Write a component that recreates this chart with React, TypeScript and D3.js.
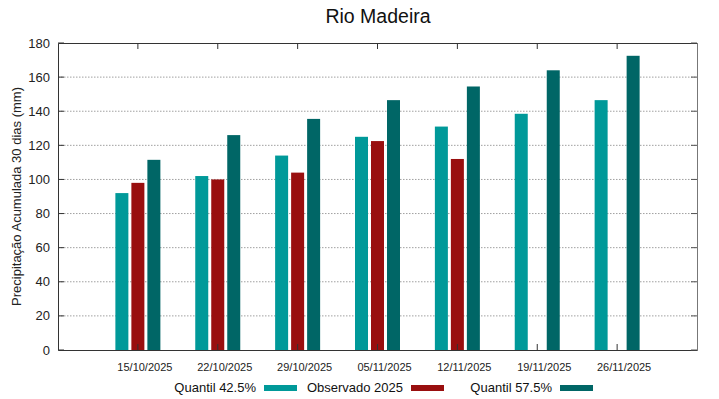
import { useEffect, useRef } from "react";
import * as d3 from "d3";

const dates = ["15/10/2025", "22/10/2025", "29/10/2025", "05/11/2025", "12/11/2025", "19/11/2025", "26/11/2025"];
const q425 = [92, 102, 114, 125, 131, 138.5, 146.5];
const observado = [98, 100, 104, 122.5, 112, null, null];
const q575 = [111.5, 126, 135.5, 146.5, 154.5, 164, 172.5];
const seriesNames = ["Quantil 42.5%", "Observado 2025", "Quantil 57.5%"];
const seriesColors = ["#009999", "#990f0f", "#006666"];
const yTicks = [0, 20, 40, 60, 80, 100, 120, 140, 160, 180];

export default function App() {
  const ref = useRef<SVGSVGElement>(null);
  const width = 719;
  const height = 399;

  useEffect(() => {
    if (!ref.current) return;
    const svg = d3.select(ref.current);
    svg.selectAll("*").remove();

    const margin = { top: 43, right: 22, bottom: 49, left: 58 };
    const innerW = width - margin.left - margin.right;
    const innerH = height - margin.top - margin.bottom;
    const font = "'Liberation Sans', Arial, sans-serif";

    const g = svg.append("g").attr("transform", `translate(${margin.left},${margin.top})`);

    // x: index positions, first category at 80px, spacing 80px
    const x = d3.scaleLinear().domain([-1, 7]).range([0, innerW]);
    const y = d3.scaleLinear().domain([0, 180]).range([innerH, 0]);

    // grid
    g.selectAll("line.grid")
      .data(yTicks.slice(1, -1))
      .join("line")
      .attr("class", "grid")
      .attr("x1", 0)
      .attr("x2", innerW)
      .attr("y1", (d) => y(d))
      .attr("y2", (d) => y(d))
      .attr("stroke", "#a0a0a0")
      .attr("stroke-width", 1)
      .attr("stroke-dasharray", "1.5,1.5");

    // bars
    const series = [q425, observado, q575];
    const barW = 13;
    const step = 16;
    series.forEach((vals, si) => {
      g.selectAll(`rect.s${si}`)
        .data(vals.map((v, i) => ({ v, i })).filter((d) => d.v != null))
        .join("rect")
        .attr("class", `s${si}`)
        .attr("x", (d) => x(d.i) + (si - 1) * step - barW / 2)
        .attr("y", (d) => y(d.v as number))
        .attr("width", barW)
        .attr("height", (d) => innerH - y(d.v as number))
        .attr("fill", seriesColors[si]);
    });

    // frame
    g.append("path")
      .attr("d", `M${innerW + 0.5},0.5 V${innerH + 0.5}`)
      .attr("stroke", "#777")
      .attr("fill", "none");
    g.append("path")
      .attr("d", `M${innerW + 0.5},0.5 H0.5 V${innerH + 0.5} H${innerW + 0.5}`)
      .attr("stroke", "#333")
      .attr("fill", "none");

    // y ticks left + mirror right
    g.selectAll("line.yt")
      .data(yTicks)
      .join("line")
      .attr("class", "yt")
      .attr("x1", 0)
      .attr("x2", 6)
      .attr("y1", (d) => y(d))
      .attr("y2", (d) => y(d))
      .attr("stroke", "#333");
    g.selectAll("line.ytr")
      .data(yTicks)
      .join("line")
      .attr("class", "ytr")
      .attr("x1", innerW)
      .attr("x2", innerW - 6)
      .attr("y1", (d) => y(d))
      .attr("y2", (d) => y(d))
      .attr("stroke", "#555");

    g.selectAll("text.yl")
      .data(yTicks)
      .join("text")
      .attr("class", "yl")
      .attr("x", -8)
      .attr("y", (d) => y(d))
      .attr("dy", "0.35em")
      .attr("text-anchor", "end")
      .style("font-family", font)
      .style("font-size", "13px")
      .attr("fill", "#222")
      .text((d) => d);

    // x ticks top and bottom
    const idx = d3.range(dates.length);
    g.selectAll("line.xt")
      .data(idx)
      .join("line")
      .attr("class", "xt")
      .attr("x1", (d) => x(d))
      .attr("x2", (d) => x(d))
      .attr("y1", 0)
      .attr("y2", 6)
      .attr("stroke", "#333");
    g.selectAll("line.xb")
      .data(idx)
      .join("line")
      .attr("class", "xb")
      .attr("x1", (d) => x(d))
      .attr("x2", (d) => x(d))
      .attr("y1", innerH)
      .attr("y2", innerH - 6)
      .attr("stroke", "#333");

    g.selectAll("text.xl")
      .data(dates)
      .join("text")
      .attr("class", "xl")
      .attr("x", (_, i) => x(i) + 7)
      .attr("y", innerH + 21)
      .attr("text-anchor", "middle")
      .style("font-family", font)
      .style("font-size", "11px")
      .attr("fill", "#222")
      .text((d) => d);

    // title
    svg.append("text")
      .attr("x", margin.left + innerW / 2 + 0.5)
      .attr("y", 23)
      .attr("text-anchor", "middle")
      .style("font-family", font)
      .style("font-size", "19.5px")
      .attr("fill", "#111")
      .text("Rio Madeira");

    // y label
    svg.append("text")
      .attr("transform", `translate(21,${margin.top + innerH / 2}) rotate(-90)`)
      .attr("text-anchor", "middle")
      .style("font-family", font)
      .style("font-size", "13px")
      .attr("fill", "#222")
      .text("Precipitação Acumulada 30 dias (mm)");

    // legend
    const textEnds = [256, 403, 552];
    seriesNames.forEach((name, i) => {
      svg.append("text")
        .attr("x", textEnds[i])
        .attr("y", 392)
        .attr("text-anchor", "end")
        .style("font-family", font)
        .style("font-size", "13px")
        .attr("fill", "#111")
        .text(name);
      svg.append("rect")
        .attr("x", textEnds[i] + 8)
        .attr("y", 385)
        .attr("width", 33)
        .attr("height", 6)
        .attr("fill", seriesColors[i]);
    });
  }, []);

  return (
    <svg
      ref={ref}
      width={width}
      height={height}
      style={{ position: "absolute", left: 0, top: 0, background: "#fff" }}
    />
  );
}
